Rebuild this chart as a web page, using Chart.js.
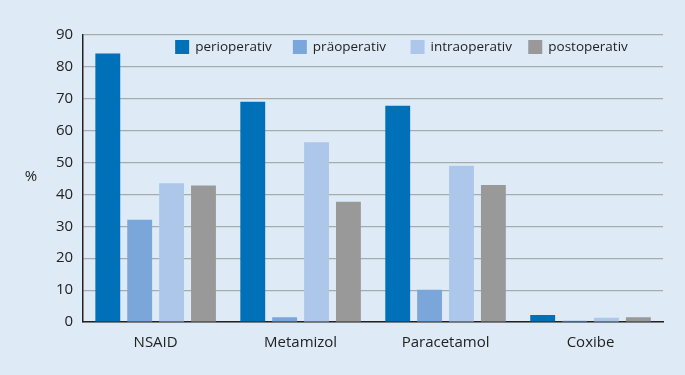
<!DOCTYPE html>
<html><head><meta charset="utf-8">
<script src="https://cdn.jsdelivr.net/npm/chart.js@4/dist/chart.umd.min.js"></script>
<style>html,body{margin:0;padding:0;background:#deebf7;}#wrap{width:685px;height:375px;}</style>
</head><body><div id="wrap"><canvas id="c" width="685" height="375"></canvas></div>
<script>
const categories = ["NSAID", "Metamizol", "Paracetamol", "Coxibe"];
const perioperativ = [84.2, 69.1, 67.8, 2.2];
const praeoperativ = [32.1, 1.5, 10.1, 0.4];
const intraoperativ = [43.5, 56.4, 49.0, 1.3];
const postoperativ = [42.8, 37.7, 43.0, 1.5];
const yTicks = [0, 10, 20, 30, 40, 50, 60, 70, 80, 90];

const font = "'Open Sans', 'Noto Sans', sans-serif";
const extrasPlugin = {
  id: 'extras',
  afterDraw(chart) {
    const ctx = chart.ctx;
    const area = chart.chartArea;
    ctx.save();
    ctx.fillStyle = '#222';
    ctx.font = "15px " + font;
    ctx.textAlign = 'center';
    ctx.textBaseline = 'middle';
    ctx.fillText('%', 31, 177);
    // legend inside plot area
    ctx.font = "13.5px " + font;
    ctx.textAlign = 'left';
    const yc = area.top + 12;
    chart.data.datasets.forEach((ds, i) => {
      const x = area.left + 92 + i * 117.7;
      ctx.fillStyle = ds.backgroundColor;
      ctx.fillRect(x, yc - 7, 14, 14);
      ctx.fillStyle = '#222';
      ctx.fillText(ds.label, x + 20, yc);
    });
    ctx.restore();
  }
};
new Chart(document.getElementById('c'), {
  type: 'bar',
  data: {
    labels: categories,
    datasets: [
      {label: 'perioperativ', data: perioperativ, backgroundColor: '#0070b8'},
      {label: 'präoperativ', data: praeoperativ, backgroundColor: '#7aa6da'},
      {label: 'intraoperativ', data: intraoperativ, backgroundColor: '#adc7ea'},
      {label: 'postoperativ', data: postoperativ, backgroundColor: '#999999'}
    ]
  },
  options: {
    responsive: false,
    animation: false,
    devicePixelRatio: 1,
    layout: {padding: {left: 46, right: 22, top: 35, bottom: 11}},
    datasets: {bar: {categoryPercentage: 0.88, barPercentage: 0.78}},
    plugins: {
      legend: {display: false},
      tooltip: {enabled: false}
    },
    scales: {
      x: {
        grid: {display: false, drawTicks: false},
        border: {color: '#222', width: 1.5},
        ticks: {color: '#222', font: {family: font, size: 15}, padding: 12}
      },
      y: {
        min: 0, max: 90,
        afterBuildTicks(axis) { axis.ticks = yTicks.map(v => ({value: v})); },
        grid: {color: '#aaaaaa', lineWidth: 1.2, drawTicks: false},
        border: {color: '#222', width: 1.5},
        ticks: {color: '#222', font: {family: font, size: 15}, padding: 10}
      }
    }
  },
  plugins: [extrasPlugin]
});
</script></body></html>
